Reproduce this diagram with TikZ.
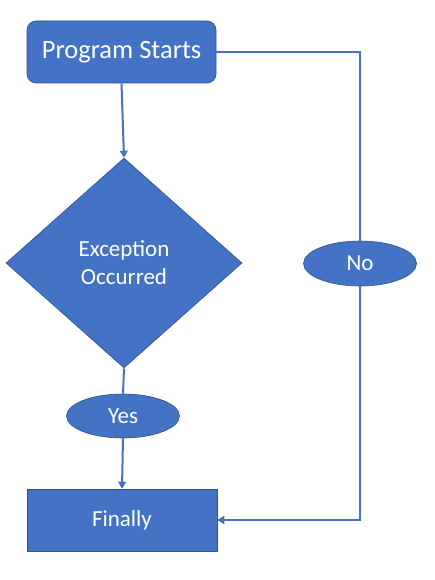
\documentclass[tikz,border=0pt]{standalone}
\usepackage{fontspec}
\setmainfont{Carlito}
\usetikzlibrary{shapes.geometric,arrows.meta}
\definecolor{fillblue}{HTML}{4472C4}
\definecolor{edgeblue}{HTML}{2F528F}
\begin{document}
\begin{tikzpicture}[x=1pt,y=-1pt,
  shapebox/.style={fill=fillblue,draw=edgeblue,line width=0.6pt,text=white,inner sep=0pt},
  conn/.style={draw=fillblue,line width=2pt},
  arr/.style={conn,-{Triangle[length=7pt,width=8pt]}}]
\useasboundingbox (0,0) rectangle (434,580);
\fill[white] (0,0) rectangle (434,580);
\node[shapebox,rounded corners=9pt,minimum width=189pt,minimum height=62pt,font=\fontsize{26.5}{30}\selectfont] (ps) at (121.5,52) {Program Starts};
\node[shapebox,diamond,aspect=1.124,minimum width=236pt,minimum height=210pt,align=center,font=\fontsize{23}{28}\selectfont] (dia) at (124,263) {Exception\\Occurred};
\node[shapebox,ellipse,minimum width=113pt,minimum height=44pt,font=\fontsize{23}{27}\selectfont] (yes) at (123,416) {Yes};
\node[shapebox,minimum width=190pt,minimum height=62pt,font=\fontsize{23}{27}\selectfont] (fin) at (122,520) {Finally};
\node[shapebox,ellipse,minimum width=113pt,minimum height=45pt,font=\fontsize{23}{27}\selectfont] (no) at (360,263.5) {No};
\draw[arr] (ps.south) -- (dia.north);
\draw[conn] (dia.south) -- (yes.north);
\draw[arr] (yes.south) -- (fin.north);
\draw[conn] (ps.east) -| (no.north);
\draw[arr] (no.south) |- (fin.east);
\end{tikzpicture}
\end{document}
